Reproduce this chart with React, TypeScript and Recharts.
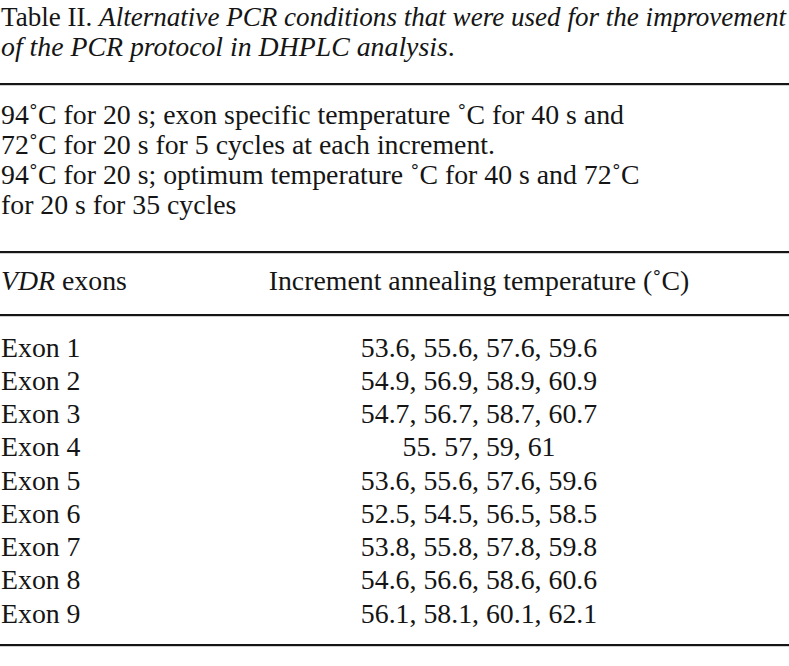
import { BarChart, Bar, XAxis, YAxis } from 'recharts';

// table contents
const titleLead = 'Table II. ';
const titleLine1 = 'Alternative PCR conditions that were used for the improvement';
const titleLine2 = 'of the PCR protocol in DHPLC analysis';
const conditionLines = [
  '94˚C for 20 s; exon specific temperature ˚C for 40 s and',
  '72˚C for 20 s for 5 cycles at each increment.',
  '94˚C for 20 s; optimum temperature ˚C for 40 s and 72˚C',
  'for 20 s for 35 cycles',
];
const headerLeft = ['VDR', ' exons'];
const headerRight = 'Increment annealing temperature (˚C)';

const exons = ['Exon 1', 'Exon 2', 'Exon 3', 'Exon 4', 'Exon 5', 'Exon 6', 'Exon 7', 'Exon 8', 'Exon 9'];
const temps = [
  '53.6, 55.6, 57.6, 59.6',
  '54.9, 56.9, 58.9, 60.9',
  '54.7, 56.7, 58.7, 60.7',
  '55. 57, 59, 61',
  '53.6, 55.6, 57.6, 59.6',
  '52.5, 54.5, 56.5, 58.5',
  '53.8, 55.8, 57.8, 59.8',
  '54.6, 56.6, 58.6, 60.6',
  '56.1, 58.1, 60.1, 62.1',
];

const rows = exons.map((exon, i) => ({ exon, temps: temps[i] }));

const W = 789;
const H = 666;
const FONT = '"Liberation Serif", "Times New Roman", serif';
const FS = 27.8;
const INK = '#151515';
const COL2 = 479;
const ROW_H = 33.25;
const ROWS_TOP = 331;

const ExonTick = (props: any) => {
  const { y, payload } = props;
  return (
    <text x={1} y={y} dy={9} fontFamily={FONT} fontSize={FS} fill={INK} textAnchor="start">
      {payload.value}
    </text>
  );
};

const TempTick = (props: any) => {
  const { y, payload } = props;
  return (
    <text x={COL2} y={y} dy={9} fontFamily={FONT} fontSize={FS} fill={INK} textAnchor="middle">
      {payload.value}
    </text>
  );
};

const Rule = ({ y }: { y: number }) => <rect x={0} y={y - 1} width={W} height={2.2} fill={INK} />;

export default function App() {
  return (
    <div style={{ position: 'absolute', left: 0, top: 0, width: W, height: H, background: '#fff' }}>
      <svg width={W} height={H} style={{ position: 'absolute', left: 0, top: 0 }}>
        <g fontFamily={FONT} fontSize={FS} fill={INK}>
          <text x={1} y={26} fontSize={27} textLength={785} lengthAdjust="spacingAndGlyphs">
            <tspan>{titleLead}</tspan>
            <tspan fontStyle="italic">{titleLine1}</tspan>
          </text>
          <text x={1} y={56}>
            <tspan fontStyle="italic">{titleLine2}</tspan>
            <tspan>.</tspan>
          </text>
          {conditionLines.map((line, i) => (
            <text key={i} x={1} y={124 + i * 30}>{line}</text>
          ))}
          <text x={1} y={290}>
            <tspan fontStyle="italic">{headerLeft[0]}</tspan>
            <tspan>{headerLeft[1]}</tspan>
          </text>
          <text x={COL2} y={290} textAnchor="middle">{headerRight}</text>
        </g>
        <Rule y={84} />
        <Rule y={252} />
        <Rule y={315} />
        <Rule y={645} />
      </svg>
      <div style={{ position: 'absolute', left: 0, top: ROWS_TOP }}>
        <BarChart
          layout="vertical"
          width={W}
          height={ROW_H * rows.length}
          data={rows}
          margin={{ top: 0, right: 0, bottom: 0, left: 0 }}
        >
          <XAxis type="number" hide domain={[0, 1]} />
          <YAxis yAxisId="exon" type="category" dataKey="exon" width={1} axisLine={false} tickLine={false} interval={0} tick={ExonTick} />
          <YAxis yAxisId="temp" orientation="right" type="category" dataKey="temps" width={1} axisLine={false} tickLine={false} interval={0} tick={TempTick} />
          {/* zero-length bars: only there so both category axes draw their rows */}
          <Bar yAxisId="exon" dataKey={() => 0} fill="none" isAnimationActive={false} />
          <Bar yAxisId="temp" dataKey={() => 0} fill="none" isAnimationActive={false} />
        </BarChart>
      </div>
    </div>
  );
}
